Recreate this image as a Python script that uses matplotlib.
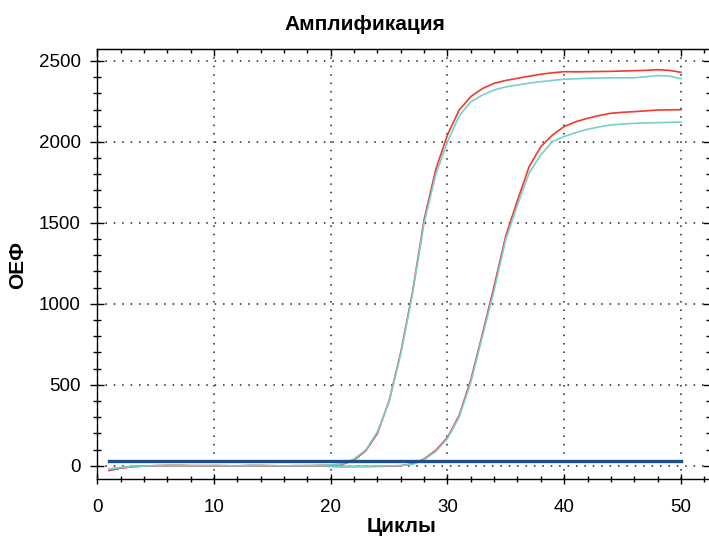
import numpy as np
import matplotlib.pyplot as plt
from matplotlib.ticker import MultipleLocator, NullFormatter

plt.rcParams['font.family'] = ['Liberation Sans', 'DejaVu Sans']

cycles = list(range(1, 51))

# ранняя пара (Ct ~ 25)
red_early = [-30, -15, -6, -2, 0, 1, 0, -1, 0, 1,
             0, -1, 0, 1, 0, -1, 0, 0, 2, 4,
             8, 35, 92, 200, 400, 700, 1070, 1520, 1830, 2043,
             2197, 2280, 2330, 2362, 2380, 2393, 2406, 2418, 2427, 2434,
             2433, 2434, 2435, 2436, 2438, 2440, 2442, 2446, 2442, 2430]
cyan_early = [-22, -12, -5, -2, 0, 1, 0, -1, 0, 1,
              0, -1, 0, 1, 0, -1, 0, 0, 2, 5,
              12, 42, 97, 210, 395, 690, 1060, 1500, 1800, 2000,
              2160, 2247, 2290, 2321, 2340, 2352, 2363, 2372, 2380, 2387,
              2390, 2393, 2395, 2396, 2396, 2396, 2403, 2410, 2407, 2391]

# поздняя пара (Ct ~ 33)
red_late = [-28, -14, -6, -2, 0, 1, 2, 1, 0, -1,
            -2, -1, 1, 0, -1, -2, -1, 0, -2, -4,
            -6, -5, -5, -4, -3, 0, 12, 42, 95, 175,
            310, 530, 815, 1110, 1420, 1640, 1848, 1971, 2043, 2095,
            2125, 2146, 2163, 2177, 2183, 2187, 2192, 2197, 2198, 2199]
cyan_late = [-20, -10, -4, -1, 0, 0, 1, 0, -1, 0,
             -1, 0, 1, 0, -1, -1, 0, 0, -1, -2,
             -3, -4, -3, -2, -1, 1, 8, 38, 88, 168,
             300, 515, 800, 1085, 1400, 1610, 1808, 1920, 2003, 2033,
             2058, 2078, 2093, 2105, 2110, 2115, 2117, 2119, 2121, 2123]

threshold = 30
red = '#ee3b2b'
cyan = '#78cfca'

fig = plt.figure(figsize=(7.09, 5.38), dpi=100)
ax = fig.add_axes([97.3 / 709, 1 - 479 / 538, (709.5 - 97.3) / 709, (479 - 49) / 538])

ax.plot(cycles, red_late, color=red, lw=1.2, zorder=3)
ax.plot(cycles, cyan_late, color=cyan, lw=1.2, zorder=3)
ax.plot(cycles, red_early, color=red, lw=1.2, zorder=3)
ax.plot(cycles, cyan_early, color=cyan, lw=1.2, zorder=3)
ax.plot([cycles[0], cycles[-1]], [threshold, threshold], color='#1d4f8c', lw=2.4, zorder=4)

ax.set_xlim(0, 52.45)
ax.set_ylim(-82, 2574)
ax.xaxis.set_major_locator(MultipleLocator(10))
ax.xaxis.set_minor_locator(MultipleLocator(2))
ax.yaxis.set_major_locator(MultipleLocator(500))
ax.yaxis.set_minor_locator(MultipleLocator(100))
ax.grid(True, which='major', color='#222222', linestyle=(0, (1, 4.5)), lw=1.1)

ax.tick_params(axis='x', which='major', direction='inout', length=7, width=1, pad=11, labelsize=13.5)
ax.tick_params(axis='x', which='minor', direction='inout', length=5, width=1)
ax.tick_params(axis='y', which='major', direction='inout', length=10, width=1, pad=7, labelsize=13.5)
ax.tick_params(axis='y', which='minor', direction='inout', length=6, width=1)

top = ax.secondary_xaxis('top')
top.xaxis.set_major_locator(MultipleLocator(10))
top.xaxis.set_minor_locator(MultipleLocator(2))
top.xaxis.set_major_formatter(NullFormatter())
top.tick_params(which='major', direction='in', length=5, width=1)
top.tick_params(which='minor', direction='in', length=3, width=1)
right = ax.secondary_yaxis('right')
right.yaxis.set_major_locator(MultipleLocator(500))
right.yaxis.set_minor_locator(MultipleLocator(100))
right.yaxis.set_major_formatter(NullFormatter())
right.tick_params(which='major', direction='in', length=5, width=1)
right.tick_params(which='minor', direction='in', length=3, width=1)

for s in ax.spines.values():
    s.set_linewidth(1)

fig.text(365 / 709, 1 - 24 / 538, 'Амплификация', ha='center', va='center',
         fontsize=15, fontweight='bold')
fig.text(402 / 709, 1 - 527 / 538, 'Циклы', ha='center', va='center',
         fontsize=15, fontweight='bold')
fig.text(18 / 709, 1 - 265 / 538, 'ОЕФ', ha='center', va='center', rotation=90,
         fontsize=15, fontweight='bold')

fig.savefig('out.png', dpi=100)
